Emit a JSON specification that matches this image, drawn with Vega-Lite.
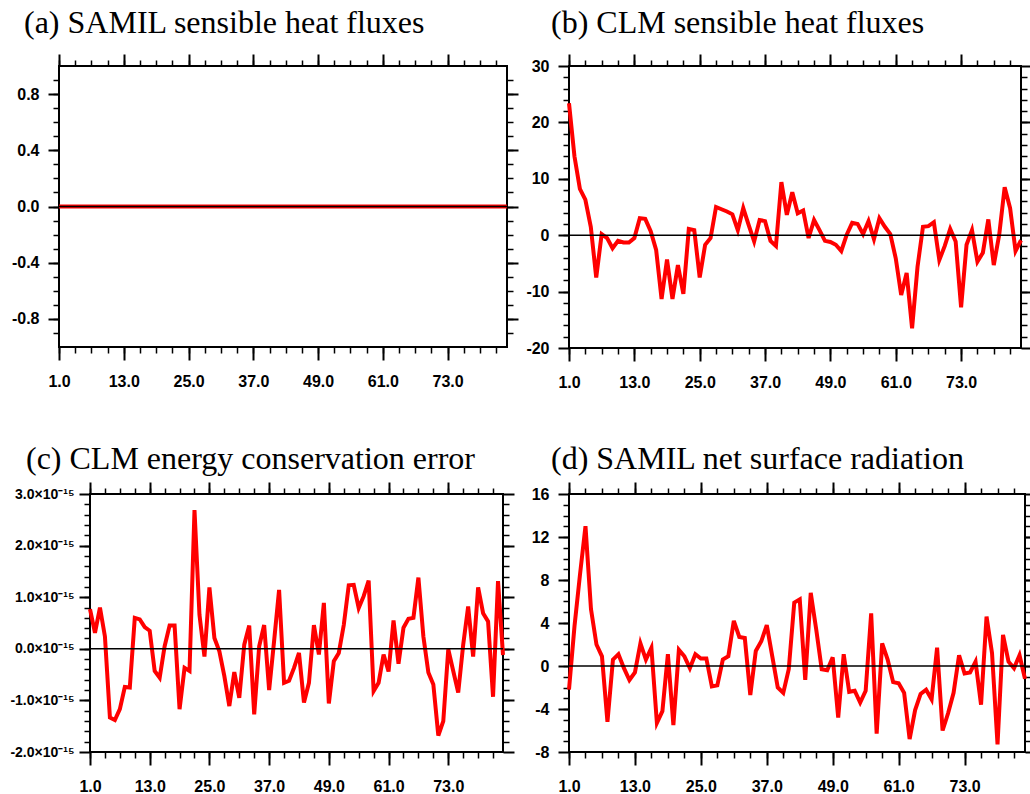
{
"$schema": "https://vega.github.io/schema/vega-lite/v6.json",
"background": "white",
"padding": {"left": 2, "top": 6, "right": 0, "bottom": 0},
"config": {
  "view": {"stroke": "black", "strokeWidth": 2},
  "axis": {"grid": false, "domain": false, "tickColor": "black", "labelColor": "black", "labelFont": "Liberation Sans", "labelFontWeight": "bold", "labelFontSize": 16, "labelFlush": false, "labelOverlap": false, "labelBound": false}
},
"datasets": {
  "a": [{"t":1,"v":0},{"t":2,"v":0},{"t":3,"v":0},{"t":4,"v":0},{"t":5,"v":0},{"t":6,"v":0},{"t":7,"v":0},{"t":8,"v":0},{"t":9,"v":0},{"t":10,"v":0},{"t":11,"v":0},{"t":12,"v":0},{"t":13,"v":0},{"t":14,"v":0},{"t":15,"v":0},{"t":16,"v":0},{"t":17,"v":0},{"t":18,"v":0},{"t":19,"v":0},{"t":20,"v":0},{"t":21,"v":0},{"t":22,"v":0},{"t":23,"v":0},{"t":24,"v":0},{"t":25,"v":0},{"t":26,"v":0},{"t":27,"v":0},{"t":28,"v":0},{"t":29,"v":0},{"t":30,"v":0},{"t":31,"v":0},{"t":32,"v":0},{"t":33,"v":0},{"t":34,"v":0},{"t":35,"v":0},{"t":36,"v":0},{"t":37,"v":0},{"t":38,"v":0},{"t":39,"v":0},{"t":40,"v":0},{"t":41,"v":0},{"t":42,"v":0},{"t":43,"v":0},{"t":44,"v":0},{"t":45,"v":0},{"t":46,"v":0},{"t":47,"v":0},{"t":48,"v":0},{"t":49,"v":0},{"t":50,"v":0},{"t":51,"v":0},{"t":52,"v":0},{"t":53,"v":0},{"t":54,"v":0},{"t":55,"v":0},{"t":56,"v":0},{"t":57,"v":0},{"t":58,"v":0},{"t":59,"v":0},{"t":60,"v":0},{"t":61,"v":0},{"t":62,"v":0},{"t":63,"v":0},{"t":64,"v":0},{"t":65,"v":0},{"t":66,"v":0},{"t":67,"v":0},{"t":68,"v":0},{"t":69,"v":0},{"t":70,"v":0},{"t":71,"v":0},{"t":72,"v":0},{"t":73,"v":0},{"t":74,"v":0},{"t":75,"v":0},{"t":76,"v":0},{"t":77,"v":0},{"t":78,"v":0},{"t":79,"v":0},{"t":80,"v":0},{"t":81,"v":0},{"t":82,"v":0},{"t":83,"v":0},{"t":84,"v":0}],
  "b": [{"t":1,"v":23.4},{"t":2,"v":14.0},{"t":3,"v":8.2},{"t":4,"v":6.3},{"t":5,"v":1.5},{"t":6,"v":-7.5},{"t":7,"v":0.2},{"t":8,"v":-0.5},{"t":9,"v":-2.3},{"t":10,"v":-1.0},{"t":11,"v":-1.3},{"t":12,"v":-1.3},{"t":13,"v":-0.5},{"t":14,"v":3.0},{"t":15,"v":2.9},{"t":16,"v":0.7},{"t":17,"v":-2.6},{"t":18,"v":-11.3},{"t":19,"v":-4.3},{"t":20,"v":-11.3},{"t":21,"v":-5.3},{"t":22,"v":-10.4},{"t":23,"v":1.1},{"t":24,"v":0.9},{"t":25,"v":-7.5},{"t":26,"v":-1.7},{"t":27,"v":-0.5},{"t":28,"v":5.0},{"t":29,"v":4.6},{"t":30,"v":4.2},{"t":31,"v":3.7},{"t":32,"v":0.9},{"t":33,"v":4.8},{"t":34,"v":1.8},{"t":35,"v":-1.1},{"t":36,"v":2.7},{"t":37,"v":2.5},{"t":38,"v":-1.0},{"t":39,"v":-1.9},{"t":40,"v":9.4},{"t":41,"v":3.6},{"t":42,"v":7.6},{"t":43,"v":3.9},{"t":44,"v":4.4},{"t":45,"v":-0.5},{"t":46,"v":2.7},{"t":47,"v":0.9},{"t":48,"v":-1.0},{"t":49,"v":-1.2},{"t":50,"v":-1.7},{"t":51,"v":-2.8},{"t":52,"v":0.1},{"t":53,"v":2.2},{"t":54,"v":2.0},{"t":55,"v":0.2},{"t":56,"v":2.5},{"t":57,"v":-0.7},{"t":58,"v":3.0},{"t":59,"v":1.5},{"t":60,"v":0.2},{"t":61,"v":-4.1},{"t":62,"v":-10.6},{"t":63,"v":-6.7},{"t":64,"v":-16.5},{"t":65,"v":-5.6},{"t":66,"v":1.5},{"t":67,"v":1.6},{"t":68,"v":2.3},{"t":69,"v":-4.4},{"t":70,"v":-1.9},{"t":71,"v":1.1},{"t":72,"v":-1.1},{"t":73,"v":-12.8},{"t":74,"v":-1.7},{"t":75,"v":0.9},{"t":76,"v":-4.7},{"t":77,"v":-3.1},{"t":78,"v":2.8},{"t":79,"v":-5.3},{"t":80,"v":0.1},{"t":81,"v":8.5},{"t":82,"v":4.8},{"t":83,"v":-2.8},{"t":84,"v":-0.9}],
  "c": [{"t":1,"v":7.7e-16},{"t":2,"v":3.1e-16},{"t":3,"v":8.0e-16},{"t":4,"v":2.4e-16},{"t":5,"v":-1.33e-15},{"t":6,"v":-1.38e-15},{"t":7,"v":-1.17e-15},{"t":8,"v":-7.4e-16},{"t":9,"v":-7.5e-16},{"t":10,"v":6.0e-16},{"t":11,"v":5.7e-16},{"t":12,"v":4.2e-16},{"t":13,"v":3.5e-16},{"t":14,"v":-4.3e-16},{"t":15,"v":-5.6e-16},{"t":16,"v":5e-17},{"t":17,"v":4.5e-16},{"t":18,"v":4.5e-16},{"t":19,"v":-1.17e-15},{"t":20,"v":-3.7e-16},{"t":21,"v":-4.3e-16},{"t":22,"v":2.69e-15},{"t":23,"v":6.6e-16},{"t":24,"v":-1.5e-16},{"t":25,"v":1.19e-15},{"t":26,"v":2.1e-16},{"t":27,"v":-5e-17},{"t":28,"v":-5.3e-16},{"t":29,"v":-1.11e-15},{"t":30,"v":-4.5e-16},{"t":31,"v":-9.5e-16},{"t":32,"v":8e-17},{"t":33,"v":4.5e-16},{"t":34,"v":-1.27e-15},{"t":35,"v":5e-17},{"t":36,"v":4.6e-16},{"t":37,"v":-8.0e-16},{"t":38,"v":1.5e-16},{"t":39,"v":1.14e-15},{"t":40,"v":-6.6e-16},{"t":41,"v":-6.2e-16},{"t":42,"v":-3.7e-16},{"t":43,"v":-8e-17},{"t":44,"v":-1.04e-15},{"t":45,"v":-6.6e-16},{"t":46,"v":4.6e-16},{"t":47,"v":-1.1e-16},{"t":48,"v":8.9e-16},{"t":49,"v":-1.06e-15},{"t":50,"v":-2.4e-16},{"t":51,"v":-8e-17},{"t":52,"v":4.6e-16},{"t":53,"v":1.23e-15},{"t":54,"v":1.24e-15},{"t":55,"v":7.9e-16},{"t":56,"v":1.02e-15},{"t":57,"v":1.32e-15},{"t":58,"v":-8.2e-16},{"t":59,"v":-6.6e-16},{"t":60,"v":-1.1e-16},{"t":61,"v":-4.4e-16},{"t":62,"v":5.5e-16},{"t":63,"v":-2.9e-16},{"t":64,"v":4.1e-16},{"t":65,"v":5.8e-16},{"t":66,"v":6.0e-16},{"t":67,"v":1.38e-15},{"t":68,"v":2.4e-16},{"t":69,"v":-4.6e-16},{"t":70,"v":-6.9e-16},{"t":71,"v":-1.68e-15},{"t":72,"v":-1.40e-15},{"t":73,"v":-1e-17},{"t":74,"v":-4.3e-16},{"t":75,"v":-8.5e-16},{"t":76,"v":8e-17},{"t":77,"v":8.2e-16},{"t":78,"v":-1.5e-16},{"t":79,"v":1.19e-15},{"t":80,"v":6.9e-16},{"t":81,"v":5.3e-16},{"t":82,"v":-9.3e-16},{"t":83,"v":1.31e-15},{"t":84,"v":-1.2e-16}],
  "d": [{"t":1,"v":-2.2},{"t":2,"v":3.7},{"t":3,"v":8.5},{"t":4,"v":13.0},{"t":5,"v":5.3},{"t":6,"v":2.0},{"t":7,"v":0.9},{"t":8,"v":-5.2},{"t":9,"v":0.6},{"t":10,"v":1.1},{"t":11,"v":-0.2},{"t":12,"v":-1.3},{"t":13,"v":-0.6},{"t":14,"v":2.1},{"t":15,"v":0.6},{"t":16,"v":1.7},{"t":17,"v":-5.3},{"t":18,"v":-4.2},{"t":19,"v":1.1},{"t":20,"v":-5.5},{"t":21,"v":1.5},{"t":22,"v":0.9},{"t":23,"v":-0.2},{"t":24,"v":1.1},{"t":25,"v":0.7},{"t":26,"v":0.7},{"t":27,"v":-1.9},{"t":28,"v":-1.8},{"t":29,"v":0.6},{"t":30,"v":0.9},{"t":31,"v":4.2},{"t":32,"v":2.7},{"t":33,"v":2.6},{"t":34,"v":-2.7},{"t":35,"v":1.4},{"t":36,"v":2.3},{"t":37,"v":3.8},{"t":38,"v":0.9},{"t":39,"v":-2.0},{"t":40,"v":-2.5},{"t":41,"v":-0.3},{"t":42,"v":5.9},{"t":43,"v":6.2},{"t":44,"v":-1.3},{"t":45,"v":6.8},{"t":46,"v":3.4},{"t":47,"v":-0.3},{"t":48,"v":-0.4},{"t":49,"v":0.8},{"t":50,"v":-4.8},{"t":51,"v":1.1},{"t":52,"v":-2.4},{"t":53,"v":-2.3},{"t":54,"v":-3.4},{"t":55,"v":-2.3},{"t":56,"v":4.9},{"t":57,"v":-6.3},{"t":58,"v":2.1},{"t":59,"v":0.6},{"t":60,"v":-1.5},{"t":61,"v":-1.6},{"t":62,"v":-2.5},{"t":63,"v":-6.8},{"t":64,"v":-4.1},{"t":65,"v":-2.6},{"t":66,"v":-2.2},{"t":67,"v":-3.1},{"t":68,"v":1.7},{"t":69,"v":-6.0},{"t":70,"v":-4.4},{"t":71,"v":-2.5},{"t":72,"v":1.0},{"t":73,"v":-0.7},{"t":74,"v":-0.6},{"t":75,"v":0.4},{"t":76,"v":-3.6},{"t":77,"v":4.6},{"t":78,"v":1.2},{"t":79,"v":-7.3},{"t":80,"v":2.9},{"t":81,"v":0.4},{"t":82,"v":-0.2},{"t":83,"v":1.0},{"t":84,"v":-1.2}]
},
"columns": 1,
"align": "none",
"spacing": 51,
"concat": [
 {"hconcat": [
  {"width": 1, "height": 281, "data": {"values": [{}]}, "mark": {"type": "text", "text": ""}, "view": {"stroke": null}},
  {"width": 448, "height": 281, "data": {"name": "a"},
   "title": {"text": "(a) SAMIL sensible heat fluxes", "anchor": "start", "frame": "group", "dx": -35, "offset": -12, "baseline": "alphabetic", "font": "Liberation Serif", "fontSize": 32, "fontWeight": "normal", "color": "black"},
   "layer": [
    {"mark": {"type": "line", "color": "#ff0000", "strokeWidth": 4},
     "encoding": {
      "x": {"field": "t", "type": "quantitative", "title": null, "scale": {"domain": [1, 84], "nice": false, "zero": false}, "axis": {"orient": "bottom", "values": [1,13,25,37,49,61,73], "format": ".1f", "tickSize": 13, "tickWidth": 2, "labelPadding": 13}},
      "y": {"field": "v", "type": "quantitative", "title": null, "scale": {"domain": [-1, 1], "nice": false, "zero": false}, "axis": {"orient": "left", "values": [-0.8,-0.4,0,0.4,0.8], "labelExpr": "(datum.value < 0 ? '-' : '') + format(abs(datum.value), '.1f')", "tickSize": 11, "tickWidth": 2, "labelPadding": 9, "minExtent": 51, "maxExtent": 51}}}},
    {"mark": {"type": "line", "opacity": 0},
     "encoding": {
      "x": {"field": "t", "type": "quantitative", "title": null, "scale": {"domain": [1, 84], "nice": false, "zero": false}, "axis": {"orient": "bottom", "values": [1,4,7,10,13,16,19,22,25,28,31,34,37,40,43,46,49,52,55,58,61,64,67,70,73,76,79,82], "labels": false, "tickSize": 6, "tickWidth": 1.5, "minExtent": 0, "maxExtent": 6}},
      "y": {"field": "v", "type": "quantitative", "title": null, "scale": {"domain": [-1, 1], "nice": false, "zero": false}, "axis": {"orient": "left", "values": [-0.9,-0.8,-0.7,-0.6,-0.5,-0.4,-0.3,-0.2,-0.1,0,0.1,0.2,0.3,0.4,0.5,0.6,0.7,0.8,0.9], "labels": false, "tickSize": 6, "tickWidth": 1.5, "minExtent": 0, "maxExtent": 6}}}},
    {"mark": {"type": "line", "opacity": 0},
     "encoding": {
      "x": {"field": "t", "type": "quantitative", "title": null, "scale": {"domain": [1, 84], "nice": false, "zero": false}, "axis": {"orient": "top", "values": [1,13,25,37,49,61,73], "labels": false, "tickSize": 12, "tickWidth": 2, "minExtent": 12, "maxExtent": 12}},
      "y": {"field": "v", "type": "quantitative", "title": null, "scale": {"domain": [-1, 1], "nice": false, "zero": false}, "axis": {"orient": "right", "values": [-0.8,-0.4,0,0.4,0.8], "labels": false, "tickSize": 11, "tickWidth": 2, "minExtent": 12, "maxExtent": 12}}}},
    {"mark": {"type": "line", "opacity": 0},
     "encoding": {
      "x": {"field": "t", "type": "quantitative", "title": null, "scale": {"domain": [1, 84], "nice": false, "zero": false}, "axis": {"orient": "top", "values": [1,4,7,10,13,16,19,22,25,28,31,34,37,40,43,46,49,52,55,58,61,64,67,70,73,76,79,82], "labels": false, "tickSize": 6, "tickWidth": 1.5, "minExtent": 0, "maxExtent": 6}},
      "y": {"field": "v", "type": "quantitative", "title": null, "scale": {"domain": [-1, 1], "nice": false, "zero": false}, "axis": {"orient": "right", "values": [-0.9,-0.8,-0.7,-0.6,-0.5,-0.4,-0.3,-0.2,-0.1,0,0.1,0.2,0.3,0.4,0.5,0.6,0.7,0.8,0.9], "labels": false, "tickSize": 6, "tickWidth": 1.5, "minExtent": 0, "maxExtent": 6}}}},
    {"data": {"values": [{}]}, "mark": {"type": "rule", "color": "black", "strokeWidth": 1.6},
     "encoding": {"y": {"datum": 0, "type": "quantitative", "scale": {"domain": [-1, 1], "nice": false, "zero": false}, "axis": null}}}
   ],
   "resolve": {"axis": {"x": "independent", "y": "independent"}}},
  {"width": 452, "height": 282, "data": {"name": "b"},
   "title": {"text": "(b) CLM sensible heat fluxes", "anchor": "start", "frame": "group", "dx": -18, "offset": -12, "baseline": "alphabetic", "font": "Liberation Serif", "fontSize": 32, "fontWeight": "normal", "color": "black"},
   "layer": [
    {"mark": {"type": "line", "color": "#ff0000", "strokeWidth": 4},
     "encoding": {
      "x": {"field": "t", "type": "quantitative", "title": null, "scale": {"domain": [1, 84], "nice": false, "zero": false}, "axis": {"orient": "bottom", "values": [1,13,25,37,49,61,73], "format": ".1f", "tickSize": 13, "tickWidth": 2, "labelPadding": 13}},
      "y": {"field": "v", "type": "quantitative", "title": null, "scale": {"domain": [-20, 30], "nice": false, "zero": false}, "axis": {"orient": "left", "values": [-20,-10,0,10,20,30], "labelExpr": "(datum.value < 0 ? '-' : '') + format(abs(datum.value), 'd')", "tickSize": 11, "tickWidth": 2, "labelPadding": 9, "minExtent": 44, "maxExtent": 44}}}},
    {"mark": {"type": "line", "opacity": 0},
     "encoding": {
      "x": {"field": "t", "type": "quantitative", "title": null, "scale": {"domain": [1, 84], "nice": false, "zero": false}, "axis": {"orient": "bottom", "values": [1,4,7,10,13,16,19,22,25,28,31,34,37,40,43,46,49,52,55,58,61,64,67,70,73,76,79,82], "labels": false, "tickSize": 6, "tickWidth": 1.5, "minExtent": 0, "maxExtent": 6}},
      "y": {"field": "v", "type": "quantitative", "title": null, "scale": {"domain": [-20, 30], "nice": false, "zero": false}, "axis": {"orient": "left", "values": [-18,-16,-14,-12,-10,-8,-6,-4,-2,0,2,4,6,8,10,12,14,16,18,20,22,24,26,28], "labels": false, "tickSize": 6, "tickWidth": 1.5, "minExtent": 0, "maxExtent": 6}}}},
    {"mark": {"type": "line", "opacity": 0},
     "encoding": {
      "x": {"field": "t", "type": "quantitative", "title": null, "scale": {"domain": [1, 84], "nice": false, "zero": false}, "axis": {"orient": "top", "values": [1,13,25,37,49,61,73], "labels": false, "tickSize": 12, "tickWidth": 2, "minExtent": 12, "maxExtent": 12}},
      "y": {"field": "v", "type": "quantitative", "title": null, "scale": {"domain": [-20, 30], "nice": false, "zero": false}, "axis": {"orient": "right", "values": [-20,-10,0,10,20,30], "labels": false, "tickSize": 11, "tickWidth": 2, "minExtent": 12, "maxExtent": 12}}}},
    {"mark": {"type": "line", "opacity": 0},
     "encoding": {
      "x": {"field": "t", "type": "quantitative", "title": null, "scale": {"domain": [1, 84], "nice": false, "zero": false}, "axis": {"orient": "top", "values": [1,4,7,10,13,16,19,22,25,28,31,34,37,40,43,46,49,52,55,58,61,64,67,70,73,76,79,82], "labels": false, "tickSize": 6, "tickWidth": 1.5, "minExtent": 0, "maxExtent": 6}},
      "y": {"field": "v", "type": "quantitative", "title": null, "scale": {"domain": [-20, 30], "nice": false, "zero": false}, "axis": {"orient": "right", "values": [-18,-16,-14,-12,-10,-8,-6,-4,-2,0,2,4,6,8,10,12,14,16,18,20,22,24,26,28], "labels": false, "tickSize": 6, "tickWidth": 1.5, "minExtent": 0, "maxExtent": 6}}}},
    {"data": {"values": [{}]}, "mark": {"type": "rule", "color": "black", "strokeWidth": 1.6},
     "encoding": {"y": {"datum": 0, "type": "quantitative", "scale": {"domain": [-20, 30], "nice": false, "zero": false}, "axis": null}}}
   ],
   "resolve": {"axis": {"x": "independent", "y": "independent"}}}
 ], "spacing": 4},
 {"hconcat": [
  {"width": 1, "height": 258, "data": {"values": [{}]}, "mark": {"type": "text", "text": ""}, "view": {"stroke": null}},
  {"width": 413, "height": 258, "data": {"name": "c"},
   "title": {"text": "(c) CLM energy conservation error", "anchor": "start", "frame": "group", "dx": -64, "offset": -20, "baseline": "alphabetic", "font": "Liberation Serif", "fontSize": 32, "fontWeight": "normal", "color": "black"},
   "layer": [
    {"mark": {"type": "line", "color": "#ff0000", "strokeWidth": 4},
     "encoding": {
      "x": {"field": "t", "type": "quantitative", "title": null, "scale": {"domain": [1, 84], "nice": false, "zero": false}, "axis": {"orient": "bottom", "values": [1,13,25,37,49,61,73], "format": ".1f", "tickSize": 13, "tickWidth": 2, "labelPadding": 13}},
      "y": {"field": "v", "type": "quantitative", "title": null, "scale": {"domain": [-2e-15, 3e-15], "nice": false, "zero": false}, "axis": {"orient": "left", "values": [-2e-15,-1e-15,0,1e-15,2e-15,3e-15], "labelExpr": "(datum.value < -1e-17 ? '-' : '') + format(abs(datum.value)*1e15, '.1f') + '×10⁻¹⁵'", "labelFontSize": 14, "tickSize": 11, "tickWidth": 2, "labelPadding": 5, "minExtent": 82, "maxExtent": 82}}}},
    {"mark": {"type": "line", "opacity": 0},
     "encoding": {
      "x": {"field": "t", "type": "quantitative", "title": null, "scale": {"domain": [1, 84], "nice": false, "zero": false}, "axis": {"orient": "bottom", "values": [1,4,7,10,13,16,19,22,25,28,31,34,37,40,43,46,49,52,55,58,61,64,67,70,73,76,79,82], "labels": false, "tickSize": 6, "tickWidth": 1.5, "minExtent": 0, "maxExtent": 6}},
      "y": {"field": "v", "type": "quantitative", "title": null, "scale": {"domain": [-2e-15, 3e-15], "nice": false, "zero": false}, "axis": {"orient": "left", "values": [-1.8e-15,-1.6e-15,-1.4e-15,-1.2e-15,-1e-15,-8e-16,-6e-16,-4e-16,-2e-16,0,2e-16,4e-16,6e-16,8e-16,1e-15,1.2e-15,1.4e-15,1.6e-15,1.8e-15,2e-15,2.2e-15,2.4e-15,2.6e-15,2.8e-15], "labels": false, "tickSize": 6, "tickWidth": 1.5, "minExtent": 0, "maxExtent": 6}}}},
    {"mark": {"type": "line", "opacity": 0},
     "encoding": {
      "x": {"field": "t", "type": "quantitative", "title": null, "scale": {"domain": [1, 84], "nice": false, "zero": false}, "axis": {"orient": "top", "values": [1,13,25,37,49,61,73], "labels": false, "tickSize": 12, "tickWidth": 2, "minExtent": 12, "maxExtent": 12}},
      "y": {"field": "v", "type": "quantitative", "title": null, "scale": {"domain": [-2e-15, 3e-15], "nice": false, "zero": false}, "axis": {"orient": "right", "values": [-2e-15,-1e-15,0,1e-15,2e-15,3e-15], "labels": false, "tickSize": 11, "tickWidth": 2, "minExtent": 12, "maxExtent": 12}}}},
    {"mark": {"type": "line", "opacity": 0},
     "encoding": {
      "x": {"field": "t", "type": "quantitative", "title": null, "scale": {"domain": [1, 84], "nice": false, "zero": false}, "axis": {"orient": "top", "values": [1,4,7,10,13,16,19,22,25,28,31,34,37,40,43,46,49,52,55,58,61,64,67,70,73,76,79,82], "labels": false, "tickSize": 6, "tickWidth": 1.5, "minExtent": 0, "maxExtent": 6}},
      "y": {"field": "v", "type": "quantitative", "title": null, "scale": {"domain": [-2e-15, 3e-15], "nice": false, "zero": false}, "axis": {"orient": "right", "values": [-1.8e-15,-1.6e-15,-1.4e-15,-1.2e-15,-1e-15,-8e-16,-6e-16,-4e-16,-2e-16,0,2e-16,4e-16,6e-16,8e-16,1e-15,1.2e-15,1.4e-15,1.6e-15,1.8e-15,2e-15,2.2e-15,2.4e-15,2.6e-15,2.8e-15], "labels": false, "tickSize": 6, "tickWidth": 1.5, "minExtent": 0, "maxExtent": 6}}}},
    {"data": {"values": [{}]}, "mark": {"type": "rule", "color": "black", "strokeWidth": 1.6},
     "encoding": {"y": {"datum": 0, "type": "quantitative", "scale": {"domain": [-2e-15, 3e-15], "nice": false, "zero": false}, "axis": null}}}
   ],
   "resolve": {"axis": {"x": "independent", "y": "independent"}}},
  {"width": 456, "height": 258, "data": {"name": "d"},
   "title": {"text": "(d) SAMIL net surface radiation", "anchor": "start", "frame": "group", "dx": -18, "offset": -20, "baseline": "alphabetic", "font": "Liberation Serif", "fontSize": 32, "fontWeight": "normal", "color": "black"},
   "layer": [
    {"mark": {"type": "line", "color": "#ff0000", "strokeWidth": 4},
     "encoding": {
      "x": {"field": "t", "type": "quantitative", "title": null, "scale": {"domain": [1, 84], "nice": false, "zero": false}, "axis": {"orient": "bottom", "values": [1,13,25,37,49,61,73], "format": ".1f", "tickSize": 13, "tickWidth": 2, "labelPadding": 13}},
      "y": {"field": "v", "type": "quantitative", "title": null, "scale": {"domain": [-8, 16], "nice": false, "zero": false}, "axis": {"orient": "left", "values": [-8,-4,0,4,8,12,16], "labelExpr": "(datum.value < 0 ? '-' : '') + format(abs(datum.value), 'd')", "tickSize": 11, "tickWidth": 2, "labelPadding": 9, "minExtent": 48, "maxExtent": 48}}}},
    {"mark": {"type": "line", "opacity": 0},
     "encoding": {
      "x": {"field": "t", "type": "quantitative", "title": null, "scale": {"domain": [1, 84], "nice": false, "zero": false}, "axis": {"orient": "bottom", "values": [1,4,7,10,13,16,19,22,25,28,31,34,37,40,43,46,49,52,55,58,61,64,67,70,73,76,79,82], "labels": false, "tickSize": 6, "tickWidth": 1.5, "minExtent": 0, "maxExtent": 6}},
      "y": {"field": "v", "type": "quantitative", "title": null, "scale": {"domain": [-8, 16], "nice": false, "zero": false}, "axis": {"orient": "left", "values": [-7,-6,-5,-4,-3,-2,-1,0,1,2,3,4,5,6,7,8,9,10,11,12,13,14,15], "labels": false, "tickSize": 6, "tickWidth": 1.5, "minExtent": 0, "maxExtent": 6}}}},
    {"mark": {"type": "line", "opacity": 0},
     "encoding": {
      "x": {"field": "t", "type": "quantitative", "title": null, "scale": {"domain": [1, 84], "nice": false, "zero": false}, "axis": {"orient": "top", "values": [1,13,25,37,49,61,73], "labels": false, "tickSize": 12, "tickWidth": 2, "minExtent": 12, "maxExtent": 12}},
      "y": {"field": "v", "type": "quantitative", "title": null, "scale": {"domain": [-8, 16], "nice": false, "zero": false}, "axis": {"orient": "right", "values": [-8,-4,0,4,8,12,16], "labels": false, "tickSize": 11, "tickWidth": 2, "minExtent": 12, "maxExtent": 12}}}},
    {"mark": {"type": "line", "opacity": 0},
     "encoding": {
      "x": {"field": "t", "type": "quantitative", "title": null, "scale": {"domain": [1, 84], "nice": false, "zero": false}, "axis": {"orient": "top", "values": [1,4,7,10,13,16,19,22,25,28,31,34,37,40,43,46,49,52,55,58,61,64,67,70,73,76,79,82], "labels": false, "tickSize": 6, "tickWidth": 1.5, "minExtent": 0, "maxExtent": 6}},
      "y": {"field": "v", "type": "quantitative", "title": null, "scale": {"domain": [-8, 16], "nice": false, "zero": false}, "axis": {"orient": "right", "values": [-7,-6,-5,-4,-3,-2,-1,0,1,2,3,4,5,6,7,8,9,10,11,12,13,14,15], "labels": false, "tickSize": 6, "tickWidth": 1.5, "minExtent": 0, "maxExtent": 6}}}},
    {"data": {"values": [{}]}, "mark": {"type": "rule", "color": "black", "strokeWidth": 1.6},
     "encoding": {"y": {"datum": 0, "type": "quantitative", "scale": {"domain": [-8, 16], "nice": false, "zero": false}, "axis": null}}}
   ],
   "resolve": {"axis": {"x": "independent", "y": "independent"}}}
 ], "spacing": 4}
]
}
